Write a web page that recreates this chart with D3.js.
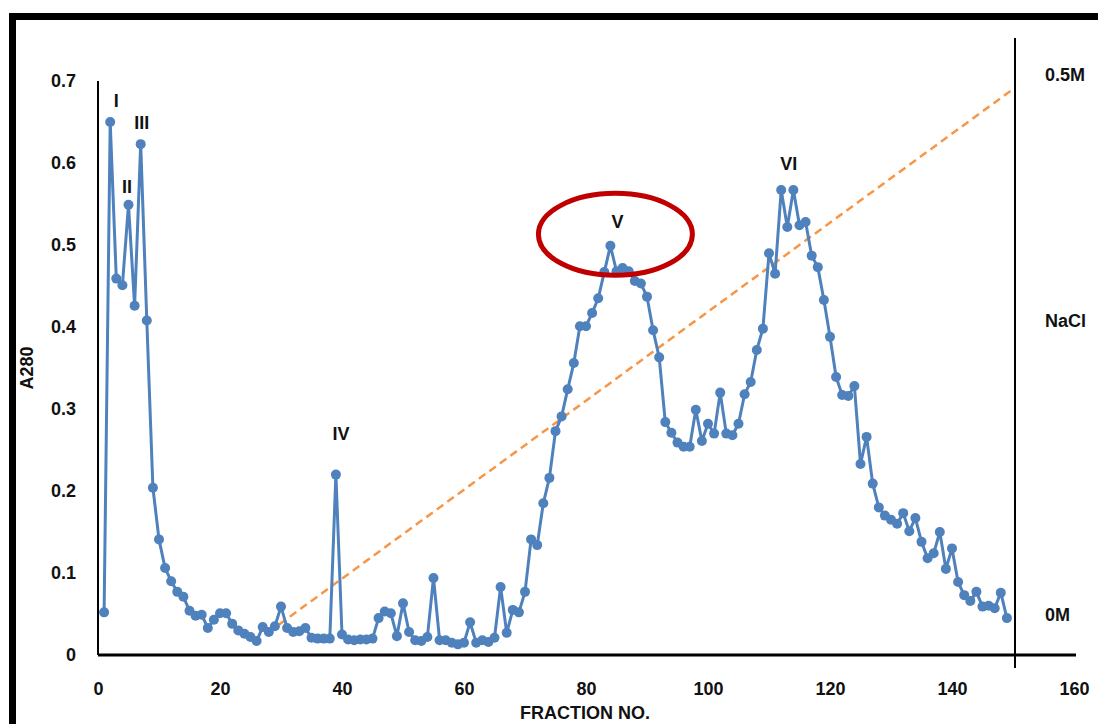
<!DOCTYPE html>
<html>
<head>
<meta charset="utf-8">
<script src="https://cdn.jsdelivr.net/npm/d3@7"></script>
<style>
  body { margin: 0; background: #fff; }
  svg text { font-family: "Liberation Sans", Arial, sans-serif; font-weight: bold; fill: #111; }
</style>
</head>
<body>
<div id="chart"></div>
<script>
// fraction numbers 1..149 and A280 readings
const fractions = d3.range(1, 150)
const a280 = [
  0.052, 0.650, 0.459, 0.451, 0.549, 0.426, 0.623, 0.408, 0.204, 0.141,
  0.106, 0.090, 0.077, 0.071, 0.054, 0.048, 0.049, 0.033, 0.043, 0.051,
  0.051, 0.038, 0.030, 0.026, 0.022, 0.017, 0.034, 0.028, 0.035, 0.059,
  0.033, 0.028, 0.029, 0.033, 0.021, 0.020, 0.020, 0.020, 0.220, 0.025,
  0.019, 0.018, 0.019, 0.019, 0.020, 0.045, 0.053, 0.051, 0.023, 0.063,
  0.028, 0.018, 0.017, 0.022, 0.094, 0.018, 0.018, 0.015, 0.013, 0.015,
  0.040, 0.015, 0.018, 0.016, 0.021, 0.083, 0.027, 0.055, 0.052, 0.077,
  0.141, 0.134, 0.185, 0.216, 0.273, 0.291, 0.324, 0.356, 0.401, 0.401,
  0.417, 0.435, 0.467, 0.499, 0.468, 0.472, 0.468, 0.456, 0.453, 0.437,
  0.396, 0.363, 0.284, 0.271, 0.259, 0.254, 0.254, 0.299, 0.261, 0.282,
  0.270, 0.320, 0.270, 0.268, 0.282, 0.318, 0.333, 0.372, 0.398, 0.490,
  0.465, 0.567, 0.522, 0.567, 0.524, 0.528, 0.487, 0.473, 0.433, 0.388,
  0.339, 0.317, 0.316, 0.328, 0.233, 0.266, 0.209, 0.180, 0.170, 0.165,
  0.160, 0.173, 0.151, 0.167, 0.138, 0.118, 0.124, 0.150, 0.105, 0.130,
  0.089, 0.073, 0.066, 0.077, 0.059, 0.060, 0.057, 0.076, 0.045
]
// NaCl gradient: fraction -> A280-axis height of the dashed line
const gradientX = [28, 150]
const gradientY = [0.028, 0.69]
const xTicks = [0, 20, 40, 60, 80, 100, 120, 140, 160]
const yTicks = [0, 0.1, 0.2, 0.3, 0.4, 0.5, 0.6, 0.7]
const peakNames = ['I', 'II', 'III', 'IV', 'V', 'VI']
const peakFractions = [2, 5, 7, 39, 84, 114]
const saltText = ['0.5M', 'NaCl', '0M']
const saltLevels = [0.7085, 0.4085, 0.0488]

const W = 1098, H = 724
const svg = d3.select('#chart').append('svg')
  .attr('width', W).attr('height', H)

const x = d3.scaleLinear().domain([0, 160]).range([98, 1074])
const y = d3.scaleLinear().domain([0, 0.7]).range([655, 81])

// outer frame (top + left thick black)
svg.append('line').attr('x1', 9).attr('x2', W).attr('y1', 16.5).attr('y2', 16.5)
  .attr('stroke', '#000').attr('stroke-width', 7)
svg.append('line').attr('x1', 12.5).attr('x2', 12.5).attr('y1', 13).attr('y2', H)
  .attr('stroke', '#000').attr('stroke-width', 7)

// X AXIS
const xAxis = svg.append('g')
  .attr('transform', `translate(0,${y(0)})`)
  .call(d3.axisBottom(x).tickValues(xTicks).tickSize(0).tickPadding(27).tickFormat(d3.format('d')))
xAxis.select('.domain').attr('stroke', '#000').attr('stroke-width', 3)
  .attr('d', `M${x(0)},0H${x(160) + 2}`)
xAxis.selectAll('text').style('font-size', '18px')

// Y AXIS
const yAxis = svg.append('g')
  .attr('transform', `translate(${x(0)},0)`)
  .call(d3.axisLeft(y).tickValues(yTicks).tickSize(0).tickPadding(22)
    .tickFormat(d => d === 0 ? '0' : d3.format('.1f')(d)))
yAxis.select('.domain').attr('stroke', '#000').attr('stroke-width', 2)
  .attr('d', `M0,${y(0.7)}V${y(0)}`)
yAxis.selectAll('text').style('font-size', '18px')

// right salt axis line
svg.append('line')
  .attr('x1', x(150) + 2).attr('x2', x(150) + 2)
  .attr('y1', 38).attr('y2', 668)
  .attr('stroke', '#000').attr('stroke-width', 2)

// axis names
svg.append('text')
  .attr('transform', `translate(33,368) rotate(-90)`)
  .attr('text-anchor', 'middle').style('font-size', '18px')
  .text('A280')
svg.append('text')
  .attr('x', 585).attr('y', 719)
  .attr('text-anchor', 'middle')
  .style('font-size', '18px')
  .text('FRACTION NO.')

// salt labels
svg.selectAll('text.salt')
  .data(saltText)
  .join('text')
  .attr('class', 'salt')
  .attr('x', 1045)
  .attr('y', (d, i) => y(saltLevels[i]) + 6.5)
  .style('font-size', '18px')
  .text(d => d)

// gradient line
svg.append('line')
  .attr('x1', x(gradientX[0])).attr('y1', y(gradientY[0]))
  .attr('x2', x(gradientX[1])).attr('y2', y(gradientY[1]))
  .attr('stroke', '#F79646').attr('stroke-width', 2.5)
  .attr('stroke-dasharray', '8,5')

// data line
const pts = fractions.map((f, i) => ({ f, v: a280[i] }))
svg.append('path')
  .datum(pts)
  .attr('fill', 'none')
  .attr('stroke', '#4F81BD')
  .attr('stroke-width', 3)
  .attr('stroke-linejoin', 'round')
  .attr('d', d3.line().x(d => x(d.f)).y(d => y(d.v)))

svg.selectAll('circle.pt')
  .data(pts)
  .join('circle')
  .attr('class', 'pt')
  .attr('cx', d => x(d.f))
  .attr('cy', d => y(d.v))
  .attr('r', 5)
  .attr('fill', '#4F81BD')

// peak labels, nudged off their peak marker
const nudge = { I: [6, -15.5], II: [-1.5, -11.5], III: [1, -15.5], IV: [5, -35], V: [7, -17.5], VI: [-4.6, -20.5] }
svg.selectAll('text.peak')
  .data(peakNames)
  .join('text')
  .attr('class', 'peak')
  .attr('x', (d, i) => x(peakFractions[i]) + nudge[d][0])
  .attr('y', (d, i) => y(a280[peakFractions[i] - 1]) + nudge[d][1])
  .attr('text-anchor', 'middle')
  .style('font-size', '18px')
  .text(d => d)

// highlight ellipse around peak V
svg.append('ellipse')
  .attr('cx', x(84) + 5).attr('cy', y(0.513))
  .attr('rx', 77).attr('ry', 41)
  .attr('fill', 'none')
  .attr('stroke', '#C00000')
  .attr('stroke-width', 5)
</script>
</body>
</html>
